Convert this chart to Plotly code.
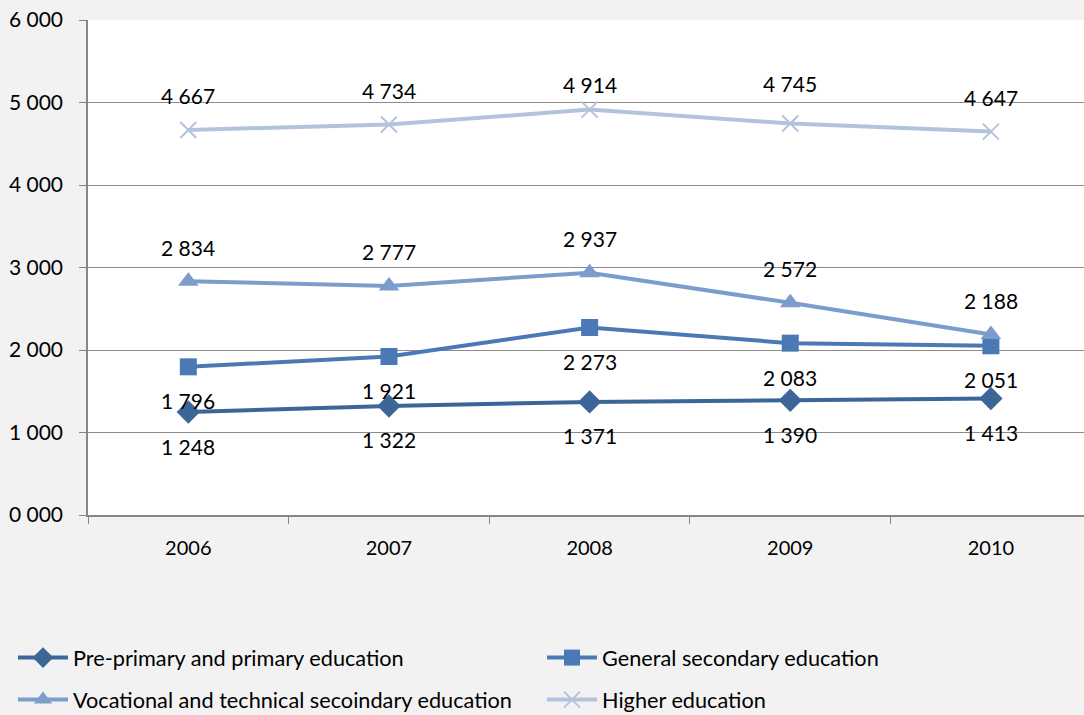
import plotly.graph_objects as go

years = ["2006", "2007", "2008", "2009", "2010"]
pre_primary = [1248, 1322, 1371, 1390, 1413]
general_secondary = [1796, 1921, 2273, 2083, 2051]
vocational = [2834, 2777, 2937, 2572, 2188]
higher = [4667, 4734, 4914, 4745, 4647]
y_ticks = [0, 1000, 2000, 3000, 4000, 5000, 6000]
y_tick_text = ["0 000", "1 000", "2 000", "3 000", "4 000", "5 000", "6 000"]

series = [
    ("Pre-primary and primary education", pre_primary, "#3d6698", "diamond", 18, [-34] * 5, "legend"),
    ("General secondary education", general_secondary, "#4a79b5", "square", 17, [-34] * 5, "legend2"),
    ("Vocational and technical secoindary education", vocational, "#7b9dcc", "triangle-up", 18, [34] * 5, "legend3"),
    ("Higher education", higher, "#b3c3de", "x-thin", 16, [34, 34, 25, 40, 34], "legend4"),
]
# legend anchor points (container pixels)
legend_pos = {"legend": (13, 658), "legend2": (542, 658), "legend3": (13, 700), "legend4": (542, 700)}

FONT = "Lato, Open Sans, sans-serif"
fig = go.Figure()
annotations = []
for name, vals, color, sym, size, shifts, leg in series:
    marker = dict(symbol=sym, size=size, color=color)
    if sym == "x-thin":
        marker["line"] = dict(color=color, width=2)
    fig.add_trace(go.Scatter(
        x=years, y=vals, name=name, mode="lines+markers",
        line=dict(color=color, width=4), marker=marker, legend=leg,
    ))
    for i, yv in enumerate(vals):
        annotations.append(dict(
            x=i, y=yv, xref="x", yref="y", text=f"{yv:,}".replace(",", " "),
            showarrow=False, yshift=shifts[i], font=dict(size=21, color="#000000", family=FONT),
        ))

legends = {}
for key, (px, py) in legend_pos.items():
    legends[key] = dict(
        orientation="h", xref="container", yref="container",
        x=px / 1084, y=1 - py / 715, xanchor="left", yanchor="middle",
        font=dict(size=21.7, family=FONT, color="#000000"),
        bgcolor="rgba(0,0,0,0)", itemwidth=50,
    )

fig.update_layout(
    width=1084, height=715,
    margin=dict(l=88, r=0, t=20, b=200),
    paper_bgcolor="#f2f2f2", plot_bgcolor="#ffffff",
    font=dict(family=FONT, size=21, color="#000000"),
    annotations=annotations,
    showlegend=True,
    **legends,
)
fig.update_xaxes(
    type="category", range=[-0.5, 4.464],
    showline=True, linecolor="#868686", linewidth=1.5,
    ticks="outside", tickson="boundaries", ticklen=7, tickcolor="#868686",
    showgrid=False, tickfont=dict(size=20), ticklabelstandoff=14,
)
fig.update_yaxes(
    range=[0, 6000], tickvals=y_ticks, ticktext=y_tick_text,
    showline=True, linecolor="#868686", linewidth=1.5,
    ticks="outside", ticklen=7, tickcolor="#868686",
    showgrid=True, gridcolor="#8c8c8c", gridwidth=1.2,
    zeroline=False, tickfont=dict(size=21), ticklabelstandoff=12,
)
fig.write_html("out.html")
